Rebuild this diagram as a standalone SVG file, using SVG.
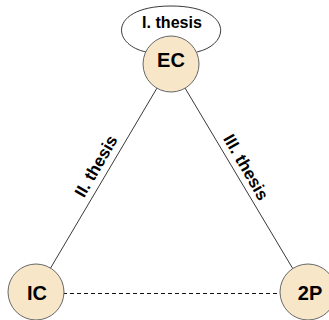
<svg xmlns="http://www.w3.org/2000/svg" width="329" height="320" viewBox="0 0 329 320">
<style>
.node{fill:#f8e6c9;stroke:#666;stroke-width:1}
.nt{font-family:"Liberation Sans",Arial,sans-serif;font-weight:bold;font-size:20px;fill:#000;text-anchor:middle}
.lbl{font-family:"Liberation Sans",Arial,sans-serif;font-weight:bold;font-size:17px;fill:#000;text-anchor:middle}
.edge{stroke:#222;stroke-width:0.9;fill:none}
.dash{stroke:#111;stroke-width:1;fill:none;stroke-dasharray:4,3}
</style>
<rect width="329" height="320" fill="#fff"/>
<g id="connectors">
<path class="edge" d="M146,52 C110,44 110,6 171,6 C232,6 232,44 197,52"/>
<line class="edge" x1="157" y1="88" x2="50" y2="269"/>
<line class="edge" x1="185" y1="88" x2="293" y2="269"/>
<line class="dash" x1="63" y1="293.5" x2="280" y2="293.5"/>
<text class="lbl" x="172" y="28" textLength="60" lengthAdjust="spacingAndGlyphs">I. thesis</text>
<text class="lbl" transform="translate(101,169) rotate(-60)" textLength="68" lengthAdjust="spacingAndGlyphs">II. thesis</text>
<text class="lbl" transform="translate(241,170) rotate(60)" textLength="73" lengthAdjust="spacingAndGlyphs">III. thesis</text>
</g>
<g id="EC"><circle class="node" cx="171" cy="64" r="28"/><text class="nt" x="171" y="67">EC</text></g>
<g id="IC"><circle class="node" cx="36" cy="292" r="28"/><text class="nt" x="37" y="300">IC</text></g>
<g id="2P"><circle class="node" cx="308" cy="292" r="28"/><text class="nt" x="310" y="300">2P</text></g>
</svg>
